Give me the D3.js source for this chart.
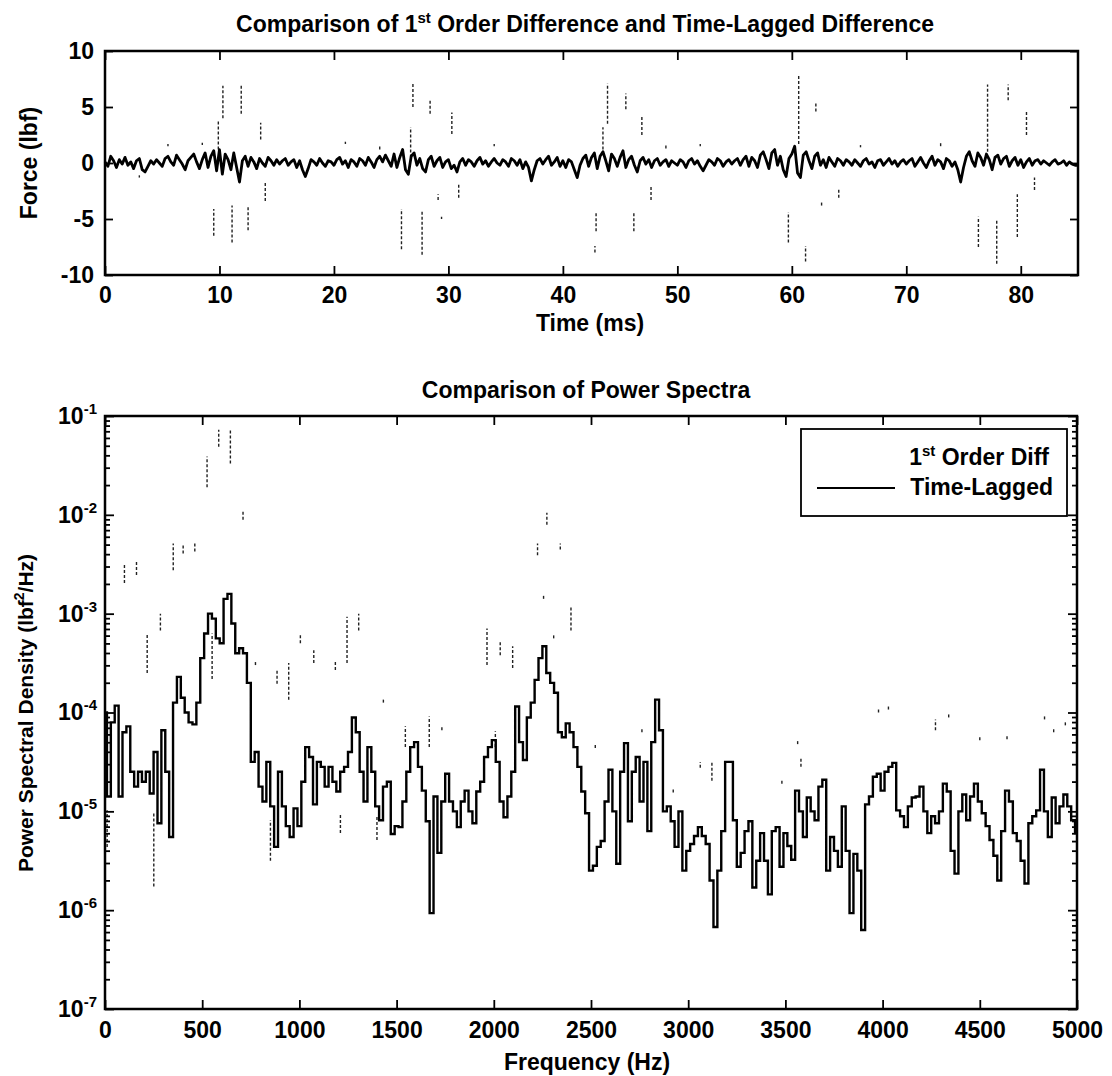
<!DOCTYPE html>
<html>
<head>
<meta charset="utf-8">
<script src="https://cdn.jsdelivr.net/npm/d3@7"></script>
<style>
  body { margin: 0; background: #fff; }
  svg { display: block; font-family: "Liberation Sans", Arial, sans-serif; font-weight: bold; }
  .tick text { font-size: 23px; fill: #000; }
  .tick line { stroke: #000; stroke-width: 1.8; }
</style>
</head>
<body>
<div id="chart"></div>
<script>
// ---------- values ----------

// top panel: time-lagged difference, one sample every 0.25 ms (0 .. 85 ms)
const forceStep = 0.25;
const lagForce = [
  0.1,-0.3,0.6,0.2,-0.4,0.3,-0.1,0.5,-0.2,0.1,-0.5,0.2,0.4,-0.6,-0.8,-0.3,0.2,-0.1,0.3,0.0,
  -0.3,0.4,0.6,0.1,-0.2,0.7,0.3,-0.1,-0.6,0.2,0.5,0.8,0.1,-0.5,0.3,0.9,-0.4,0.6,1.1,-0.7,
  1.2,-1.0,0.8,0.3,-0.6,0.9,-0.4,-1.7,0.2,0.6,-0.3,0.5,0.1,-0.5,0.4,0.0,-0.3,0.5,0.2,-0.2,
  0.3,-0.1,0.2,0.4,-0.2,0.1,0.3,-0.4,0.2,-0.6,-1.2,-0.5,0.3,0.1,-0.2,0.4,0.0,-0.3,0.2,0.1,
  -0.2,0.3,0.5,-0.1,0.2,-0.4,0.3,0.1,-0.3,0.4,0.2,-0.2,0.5,0.1,-0.4,0.3,0.6,0.1,0.7,0.2,
  -0.3,0.8,-0.4,0.5,1.2,-0.6,-1.0,0.6,0.9,-0.2,0.4,-0.5,-0.8,0.3,0.6,-0.3,0.2,0.5,-0.4,0.1,
  0.3,-0.5,-0.2,-0.8,0.1,0.4,-0.2,0.3,0.1,-0.3,0.2,0.5,-0.1,0.2,-0.3,0.1,0.4,0.0,-0.2,0.3,
  0.1,-0.3,0.4,0.2,-0.2,0.3,-0.5,0.1,-0.4,-1.6,-0.6,0.2,0.4,-0.1,0.3,0.6,-0.2,0.1,0.5,-0.3,
  0.2,-0.4,0.3,0.1,-0.6,-1.3,-0.2,0.4,0.7,-0.3,0.5,0.9,-0.5,0.6,1.0,0.2,-0.7,0.8,0.4,-0.3,
  0.5,1.1,-0.4,0.3,0.6,-0.2,-0.8,0.2,0.5,-0.1,0.3,-0.4,0.2,0.4,-0.2,0.1,0.3,-0.3,0.2,0.0,
  -0.2,0.3,0.1,-0.4,0.2,0.4,-0.1,0.2,-0.3,-0.7,-0.2,0.3,0.1,-0.2,0.4,0.2,-0.3,0.1,0.3,-0.1,
  0.2,0.4,-0.2,0.3,0.6,-0.3,0.5,0.2,-0.4,0.7,1.0,0.3,-0.5,0.9,1.2,-0.2,0.6,-0.6,-1.2,0.4,
  0.8,1.5,-0.9,-1.3,0.7,1.0,0.2,-0.5,0.6,0.9,-0.2,0.3,-0.4,0.5,0.1,-0.3,0.4,0.2,-0.2,0.3,
  0.1,-0.2,0.3,0.0,-0.3,0.2,0.4,-0.1,0.1,-0.4,0.2,0.3,-0.2,0.1,0.4,-0.1,0.2,-0.3,0.1,0.3,
  -0.1,0.2,0.4,-0.3,0.1,0.5,0.0,-0.4,0.2,0.6,-0.2,0.3,0.1,-0.5,0.4,0.2,-0.3,0.1,-0.6,-1.7,
  -0.4,0.6,1.0,0.2,-0.3,0.9,0.5,-0.2,0.8,0.3,-0.6,0.5,0.7,-0.1,0.4,0.6,-0.3,0.2,0.5,-0.2,
  0.3,-0.4,0.1,0.4,-0.2,0.2,0.3,-0.1,0.2,0.0,-0.2,0.1,0.3,-0.1,0.0,0.2,-0.2,0.1,-0.1,-0.2,
  -0.2
];

// top panel: 1st order difference, only its steep spikes survive in the print
// [time ms, low lbf, high lbf]
const diffSpikes = [
  [9.9,1.2,3.7],[10.3,4.0,6.9],[11.9,4.4,6.9],[13.6,2.1,3.6],
  [26.7,0.5,3.2],[26.9,5.0,7.1],[28.4,4.4,5.6],[30.3,2.6,4.5],
  [43.5,1.2,3.2],[43.9,3.5,7.1],[45.5,4.8,6.2],[46.9,2.5,4.1],
  [60.6,1.7,7.9],[62.1,4.6,5.5],[77.1,1.0,7.0],[78.9,5.6,7.0],[80.5,2.5,4.7],
  [9.5,-6.5,-4.1],[11.1,-7.1,-3.8],[12.5,-6.0,-3.8],[14.0,-3.4,-1.7],
  [25.9,-7.7,-4.1],[27.7,-8.2,-4.2],[29.1,-3.3,-2.8],[29.4,-5.0,-4.8],[30.9,-3.1,-1.8],
  [42.8,-8.0,-7.4],[42.9,-6.1,-4.3],[46.2,-6.1,-4.4],[47.7,-3.3,-2.1],
  [59.7,-7.1,-4.4],[61.2,-8.8,-7.4],[62.6,-3.8,-3.5],[64.1,-3.1,-2.3],
  [76.3,-7.5,-4.8],[77.9,-9.0,-5.1],[79.7,-6.6,-2.8],[81.2,-2.4,-1.3],
  [3.0,-1.3,-1.1],[5.5,1.5,1.7],[8.5,1.6,1.8],[21.0,1.7,1.9],[24.0,1.2,1.5],
  [34.0,1.5,1.7],[49.0,1.3,1.6],[52.0,1.5,1.7],[66.0,1.4,1.6],[73.0,1.5,1.8]
];

// bottom panel: time-lagged PSD, log10(lbf^2/Hz), one value every 20 Hz (0 .. 5000 Hz)
const psdStep = 20;
const lagPsdLog = [
  -4.00,-4.85,-4.10,-3.93,-4.85,-4.20,-4.14,-4.60,-4.75,-4.60,
  -4.70,-4.60,-4.82,-4.40,-5.12,-4.18,-4.60,-5.26,-3.90,-3.64,
  -3.85,-4.00,-4.10,-4.12,-3.90,-3.45,-3.20,-3.00,-3.05,-3.25,
  -3.30,-2.85,-2.80,-3.10,-3.40,-3.35,-3.40,-3.70,-4.50,-4.40,
  -4.75,-4.90,-4.50,-4.95,-5.36,-4.60,-4.95,-5.15,-5.26,-4.97,
  -5.15,-4.70,-4.35,-4.45,-4.93,-4.50,-4.55,-4.75,-4.55,-4.70,
  -4.80,-4.60,-4.55,-4.40,-4.05,-4.20,-4.60,-4.90,-4.35,-4.60,
  -4.95,-5.09,-4.75,-4.70,-5.23,-5.15,-5.16,-4.90,-4.60,-4.35,
  -4.30,-4.55,-4.79,-5.10,-6.03,-4.85,-5.42,-4.90,-4.62,-4.90,
  -5.00,-5.16,-4.90,-4.79,-5.00,-5.12,-4.80,-4.70,-4.45,-4.35,
  -4.28,-4.50,-4.90,-5.06,-4.85,-4.60,-3.94,-4.30,-4.48,-4.05,
  -3.90,-3.67,-3.45,-3.33,-3.60,-3.70,-3.80,-4.20,-4.25,-4.11,
  -4.20,-4.35,-4.55,-4.80,-5.02,-5.60,-5.55,-5.36,-5.30,-4.90,
  -4.58,-5.00,-5.53,-4.60,-4.31,-5.10,-4.60,-4.45,-4.90,-4.50,
  -5.20,-4.30,-3.87,-4.18,-5.00,-4.95,-5.10,-5.36,-5.00,-5.60,
  -5.40,-5.33,-5.25,-5.16,-5.25,-5.33,-5.70,-6.17,-5.60,-5.20,
  -4.50,-4.50,-5.09,-5.56,-5.42,-5.20,-5.10,-5.77,-5.50,-5.22,
  -5.50,-5.84,-5.20,-5.16,-5.56,-5.22,-5.35,-5.49,-4.79,-5.00,
  -5.26,-4.86,-5.00,-5.09,-4.75,-4.68,-5.60,-5.26,-5.40,-5.56,
  -4.95,-5.40,-6.03,-5.43,-5.60,-6.20,-4.93,-4.85,-4.65,-4.62,
  -4.79,-4.60,-4.55,-4.51,-4.99,-5.05,-5.16,-4.95,-4.86,-4.85,
  -4.75,-5.00,-5.22,-5.05,-5.12,-5.00,-4.72,-4.80,-5.40,-5.63,
  -5.00,-4.83,-5.09,-4.85,-4.72,-4.90,-5.02,-5.15,-5.29,-5.45,
  -5.70,-5.20,-4.79,-4.90,-5.22,-5.30,-5.50,-5.73,-5.12,-5.05,
  -4.99,-4.58,-5.00,-5.26,-4.86,-5.12,-4.95,-4.83,-4.95,-5.09,
  -5.22
];

// bottom panel: 1st order diff PSD fragments, [Hz, low log10, high log10]
const diffPsdSpikes = [
  [11,-5.36,-4.99],[100,-2.69,-2.49],[162,-2.61,-2.47],[217,-3.60,-3.20],[251,-5.76,-5.02],
  [285,-3.17,-3.00],[351,-2.56,-2.29],[402,-2.39,-2.29],[462,-2.37,-2.29],[525,-1.72,-1.41],
  [551,-3.66,-3.20],[585,-1.31,-1.14],[645,-1.48,-1.14],[710,-2.05,-1.97],[774,-3.52,-3.48],
  [851,-5.50,-5.09],[885,-3.71,-3.57],[945,-3.87,-3.50],[1005,-3.30,-3.20],[1074,-3.50,-3.37],
  [1185,-3.57,-3.47],[1211,-5.22,-5.02],[1245,-3.50,-3.03],[1305,-3.17,-3.00],[1399,-5.29,-5.05],
  [1432,-3.90,-3.85],[1545,-4.35,-4.14],[1668,-4.35,-4.04],[1733,-4.18,-4.14],[1965,-3.52,-3.15],
  [2008,-4.35,-4.19],[2033,-3.42,-3.27],[2097,-3.55,-3.33],[2225,-2.41,-2.29],[2256,-2.85,-2.81],
  [2273,-2.10,-1.98],[2308,-3.25,-3.21],[2342,-2.35,-2.29],[2397,-3.17,-2.93],[2522,-4.36,-4.32],
  [2762,-4.20,-4.16],[2923,-4.81,-4.77],[3062,-4.56,-4.50],[3122,-4.69,-4.50],[3482,-4.72,-4.68],
  [3563,-4.32,-4.28],[3580,-4.55,-4.45],[3979,-4.00,-3.96],[4030,-3.97,-3.93],[4272,-4.18,-4.07],
  [4340,-4.05,-4.01],[4500,-4.28,-4.24],[4640,-4.27,-4.23],[4833,-4.07,-4.03],[4880,-4.20,-4.16],
  [4940,-4.13,-4.09]
];

// tick values
const timeTicks = [0, 10, 20, 30, 40, 50, 60, 70, 80];
const forceTicks = [-10, -5, 0, 5, 10];
const freqTicks = [0, 500, 1000, 1500, 2000, 2500, 3000, 3500, 4000, 4500, 5000];
const psdDecades = [-7, -6, -5, -4, -3, -2, -1];

// ---------- drawing ----------
const svg = d3.select("#chart").append("svg")
  .attr("width", 1112)
  .attr("height", 1076);

const boxA = {left: 105, right: 1078, top: 51, bottom: 275};
const boxB = {left: 105, right: 1077, top: 416, bottom: 1009};

const xA = d3.scaleLinear().domain([0, 85]).range([boxA.left, boxA.right]);
const yA = d3.scaleLinear().domain([-10, 10]).range([boxA.bottom, boxA.top]);
const xB = d3.scaleLinear().domain([0, 5000]).range([boxB.left, boxB.right]);
const yB = d3.scaleLog().domain([1e-7, 1e-1]).range([boxB.bottom, boxB.top]);

const plain = d => String(d);

// --- top panel ---
const gA = svg.append("g");

gA.append("g").selectAll("line")
  .data(diffSpikes)
  .enter().append("line")
    .attr("x1", d => xA(d[0])).attr("x2", d => xA(d[0]))
    .attr("y1", d => yA(d[1])).attr("y2", d => yA(d[2]))
    .attr("stroke", "#222")
    .attr("stroke-width", 1.4)
    .attr("stroke-dasharray", "3,2");

gA.append("path")
  .datum(lagForce)
  .attr("fill", "none")
  .attr("stroke", "#000")
  .attr("stroke-width", 2.8)
  .attr("stroke-linejoin", "round")
  .attr("d", d3.line().x((d, i) => xA(i * forceStep)).y(d => yA(d)));

gA.append("g")
  .attr("transform", `translate(0,${boxA.bottom})`)
  .call(d3.axisBottom(xA).tickValues(timeTicks).tickSize(-9).tickPadding(12).tickFormat(plain))
  .call(g => g.select(".domain").remove());
gA.append("g")
  .attr("transform", `translate(0,${boxA.top})`)
  .call(d3.axisTop(xA).tickValues(timeTicks).tickSize(-9).tickFormat(""))
  .call(g => g.select(".domain").remove());
gA.append("g")
  .attr("transform", `translate(${boxA.left},0)`)
  .call(d3.axisLeft(yA).tickValues(forceTicks).tickSize(-8).tickPadding(11).tickFormat(plain))
  .call(g => g.select(".domain").remove());
gA.append("g")
  .attr("transform", `translate(${boxA.right},0)`)
  .call(d3.axisRight(yA).tickValues(forceTicks).tickSize(-8).tickFormat(""))
  .call(g => g.select(".domain").remove());

gA.append("rect")
  .attr("x", boxA.left).attr("y", boxA.top)
  .attr("width", boxA.right - boxA.left).attr("height", boxA.bottom - boxA.top)
  .attr("fill", "none").attr("stroke", "#000").attr("stroke-width", 2.5);

const titleA = gA.append("text")
  .attr("x", 585).attr("y", 32)
  .attr("text-anchor", "middle")
  .attr("font-size", 23);
titleA.append("tspan").text("Comparison of 1");
titleA.append("tspan").attr("dy", -9).attr("font-size", 15).text("st");
titleA.append("tspan").attr("dy", 9).text(" Order Difference and Time-Lagged Difference");

gA.append("text")
  .attr("x", 590).attr("y", 331)
  .attr("text-anchor", "middle").attr("font-size", 23)
  .text("Time (ms)");

gA.append("text")
  .attr("transform", "translate(37,163) rotate(-90)")
  .attr("text-anchor", "middle").attr("font-size", 23)
  .text("Force (lbf)");

// --- bottom panel ---
const gB = svg.append("g");

gB.append("g").selectAll("line")
  .data(diffPsdSpikes)
  .enter().append("line")
    .attr("x1", d => xB(d[0])).attr("x2", d => xB(d[0]))
    .attr("y1", d => yB(10 ** d[1])).attr("y2", d => yB(10 ** d[2]))
    .attr("stroke", "#222")
    .attr("stroke-width", 1.4)
    .attr("stroke-dasharray", "3,2");

gB.append("path")
  .datum(lagPsdLog)
  .attr("fill", "none")
  .attr("stroke", "#000")
  .attr("stroke-width", 2.4)
  .attr("d", d3.line().curve(d3.curveStep)
    .x((d, i) => xB(i * psdStep))
    .y(d => yB(10 ** d)));

const majorPsd = psdDecades.map(e => 10 ** e);
const minorPsd = [];
psdDecades.slice(0, -1).forEach(e => {
  for (let m = 2; m <= 9; m++) minorPsd.push(m * 10 ** e);
});

gB.append("g")
  .attr("transform", `translate(0,${boxB.bottom})`)
  .call(d3.axisBottom(xB).tickValues(freqTicks).tickSize(-9).tickPadding(13).tickFormat(plain))
  .call(g => g.select(".domain").remove());
gB.append("g")
  .attr("transform", `translate(0,${boxB.top})`)
  .call(d3.axisTop(xB).tickValues(freqTicks).tickSize(-9).tickFormat(""))
  .call(g => g.select(".domain").remove());

[["left", boxB.left, d3.axisLeft], ["right", boxB.right, d3.axisRight]].forEach(([side, xPos, ax]) => {
  gB.append("g")
    .attr("transform", `translate(${xPos},0)`)
    .call(ax(yB).tickValues(minorPsd).tickSize(-5).tickFormat(""))
    .call(g => g.select(".domain").remove());
  const major = gB.append("g")
    .attr("transform", `translate(${xPos},0)`)
    .call(ax(yB).tickValues(majorPsd).tickSize(-9).tickPadding(8)
      .tickFormat(side === "left" ? plain : ""))
    .call(g => g.select(".domain").remove());
  if (side === "left") {
    major.selectAll(".tick text").each(function(d) {
      const t = d3.select(this);
      const e = Math.round(Math.log10(d));
      t.text(null);
      t.append("tspan").text("10");
      t.append("tspan").attr("dy", -10).attr("font-size", 15).text(String(e));
    });
  }
});

gB.append("rect")
  .attr("x", boxB.left).attr("y", boxB.top)
  .attr("width", boxB.right - boxB.left).attr("height", boxB.bottom - boxB.top)
  .attr("fill", "none").attr("stroke", "#000").attr("stroke-width", 2.5);

gB.append("text")
  .attr("x", 586).attr("y", 398)
  .attr("text-anchor", "middle").attr("font-size", 23)
  .text("Comparison of Power Spectra");

gB.append("text")
  .attr("x", 587).attr("y", 1070)
  .attr("text-anchor", "middle").attr("font-size", 23)
  .text("Frequency (Hz)");

const yLabB = gB.append("text")
  .attr("transform", "translate(33,713) rotate(-90)")
  .attr("text-anchor", "middle").attr("font-size", 21);
yLabB.append("tspan").text("Power Spectral Density (lbf");
yLabB.append("tspan").attr("dy", -9).attr("font-size", 14).text("2");
yLabB.append("tspan").attr("dy", 9).text("/Hz)");

// legend
const legend = gB.append("g");
legend.append("rect")
  .attr("x", 801).attr("y", 429).attr("width", 266).attr("height", 87)
  .attr("fill", "#fff").attr("stroke", "#000").attr("stroke-width", 1.8);
const leg1 = legend.append("text")
  .attr("x", 1049).attr("y", 465)
  .attr("text-anchor", "end").attr("font-size", 23);
leg1.append("tspan").text("1");
leg1.append("tspan").attr("dy", -9).attr("font-size", 15).text("st");
leg1.append("tspan").attr("dy", 9).text(" Order Diff");
legend.append("line")
  .attr("x1", 817).attr("x2", 895).attr("y1", 488).attr("y2", 488)
  .attr("stroke", "#000").attr("stroke-width", 2);
legend.append("text")
  .attr("x", 1053).attr("y", 495)
  .attr("text-anchor", "end").attr("font-size", 23)
  .text("Time-Lagged");
</script>
</body>
</html>
